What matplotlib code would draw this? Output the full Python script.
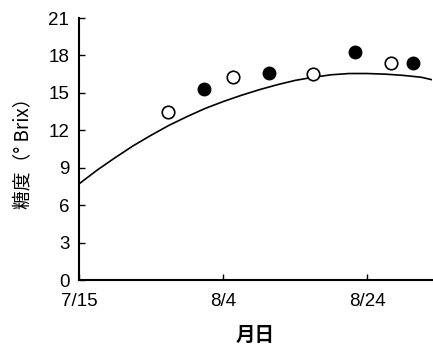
import numpy as np
import matplotlib.pyplot as plt

# days counted from 7/15
tick_days = [0, 20, 40]
tick_labels = ['7/15', '8/4', '8/24']

open_days = [12.4, 21.4, 32.5, 43.3]
open_brix = [13.5, 16.3, 16.5, 17.4]

filled_days = [17.4, 26.4, 38.3, 46.4]
filled_brix = [15.3, 16.6, 18.3, 17.4]

# curve
curve_days = [0, 2.5, 5, 7.5, 10, 12.5, 15, 17.5, 20, 22.5, 25, 27.5, 30, 32.5,
              35, 37.5, 40, 42.5, 45, 47.5, 49]
curve_brix = [7.7, 8.8, 9.8, 10.75, 11.6, 12.4, 13.1, 13.75, 14.3, 14.8, 15.25,
              15.65, 16.0, 16.25, 16.45, 16.55, 16.55, 16.5, 16.4, 16.25, 16.05]

plt.rcParams['font.family'] = ['Liberation Sans Narrow', 'Liberation Sans', 'DejaVu Sans']

fig = plt.figure(figsize=(4.33, 3.49), dpi=100)
ax = fig.add_axes([0.1824, 0.1977, 0.8156, 0.7507])

ax.plot(curve_days, curve_brix, color='black', lw=1.2)
ax.plot(open_days, open_brix, 'o', ms=9, mfc='white', mec='black', mew=1.2)
ax.plot(filled_days, filled_brix, 'o', ms=9, mfc='black', mec='black')

ax.set_xlim(0, 49)
ax.set_ylim(0, 21)
ax.set_yticks(range(0, 22, 3))
ax.set_xticks(tick_days)
ax.set_xticklabels(tick_labels)

for s in ['top', 'right']:
    ax.spines[s].set_visible(False)
for s in ['left', 'bottom']:
    ax.spines[s].set_linewidth(1.5)

ax.tick_params(direction='in', length=4, width=1, labelsize=13.5)
ax.tick_params(axis='y', pad=7)
ax.tick_params(axis='x', pad=9)

ax.set_ylabel('糖度（° Brix）', family=['Noto Sans CJK JP', 'DejaVu Sans'],
              fontsize=13.5, labelpad=10)
ax.set_xlabel('月日', family=['Noto Sans CJK JP', 'DejaVu Sans'],
              fontsize=14, fontweight='bold', labelpad=12)

fig.savefig('out.png', dpi=100)
